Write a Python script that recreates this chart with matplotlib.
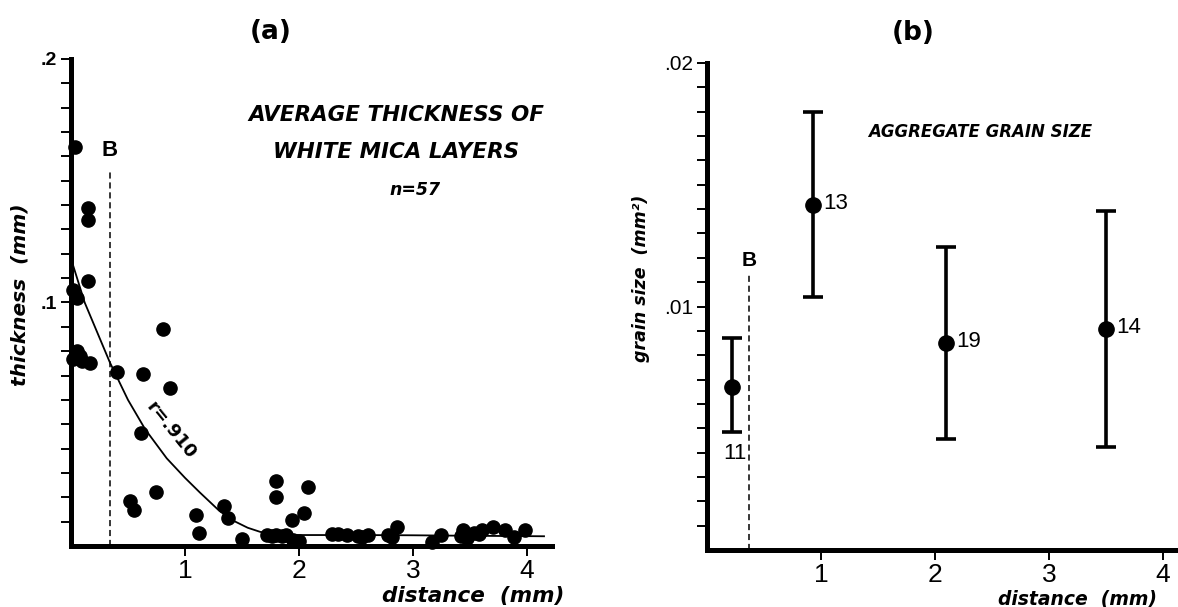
import matplotlib
matplotlib.use("Agg")
import matplotlib.pyplot as plt
from matplotlib.ticker import FixedLocator, FixedFormatter, NullFormatter

# ---------------- data: panel (a) ----------------
dist_a = [0.035, 0.15, 0.15, 0.15, 0.02, 0.05, 0.05, 0.02, 0.10, 0.17,
          0.81, 0.40, 0.63, 0.87, 0.61, 0.75, 0.52, 0.55, 1.10, 1.12,
          1.34, 1.38, 1.50, 1.80, 1.80, 2.08, 1.94, 2.04, 1.72, 1.80,
          1.89, 1.95, 2.29, 2.34, 2.42, 2.52, 2.61, 2.78, 2.86, 2.82,
          3.17, 3.25, 3.44, 3.47, 3.54, 3.61, 3.70, 3.81, 3.89, 3.98,
          0.08, 1.76, 1.85, 2.00, 3.42, 3.58, 2.55]
thick_a = [0.164, 0.139, 0.134, 0.109, 0.105, 0.102, 0.080, 0.077, 0.076, 0.075,
           0.089, 0.0716, 0.0708, 0.065, 0.0465, 0.022, 0.0185, 0.0148, 0.0128, 0.0053,
           0.0165, 0.0115, 0.003, 0.0267, 0.020, 0.0243, 0.0107, 0.0136, 0.0045, 0.0045,
           0.0045, 0.0025, 0.005, 0.005, 0.0045, 0.004, 0.0045, 0.0045, 0.008, 0.0037,
           0.0017, 0.0045, 0.0066, 0.0033, 0.0053, 0.0066, 0.0078, 0.0066, 0.0037, 0.0066,
           0.078, 0.004, 0.004, 0.002, 0.004, 0.005, 0.0035]
# regression curve
fit_x = [0.0, 0.12, 0.34, 0.5, 0.65, 0.84, 1.0, 1.13, 1.3, 1.42, 1.55, 1.66,
         1.8, 2.0, 2.5, 3.0, 3.5, 4.15]
fit_y = [0.118, 0.100, 0.0755, 0.060, 0.048, 0.036, 0.028, 0.022, 0.0145, 0.0105,
         0.0075, 0.0058, 0.0048, 0.0045, 0.0045, 0.0044, 0.0042, 0.004]
boundary_a = 0.34
boundary_a_top = 0.155
ytick_a = [0.1, 0.2]
ytick_a_labels = [".1", ".2"]
xtick_vals = [1, 2, 3, 4]
xtick_labels = ["1", "2", "3", "4"]

# ---------------- data: panel (b) ----------------
dist_b = [0.22, 0.93, 2.10, 3.50]
grain_b = [0.00669, 0.01417, 0.0085, 0.00908]
grain_lo = [0.00485, 0.01039, 0.00456, 0.00423]
grain_hi = [0.0087, 0.0180, 0.01244, 0.01392]
counts_b = ["11", "13", "19", "14"]
boundary_b = 0.37
boundary_b_top = 0.0114
ytick_b = [0.01, 0.02]
ytick_b_labels = [".01", ".02"]

W, H = 1178, 607
fig = plt.figure(figsize=(W / 100, H / 100), dpi=100)


def P(x, y):
    return x / W, 1 - y / H


BI = dict(family="DejaVu Sans", weight="bold", style="italic")
TICKF = "Liberation Sans"


def style_axes(ax, lw=3.6):
    for s in ("top", "right"):
        ax.spines[s].set_visible(False)
    for s in ("left", "bottom"):
        ax.spines[s].set_linewidth(lw)
        ax.spines[s].set_capstyle("projecting")
    ax.tick_params(axis="y", which="both", direction="out", length=7, width=1.4,
                   pad=3)
    ax.tick_params(axis="x", which="both", direction="out", length=7, width=1.4,
                   pad=2)


# ---------------- panel (a) ----------------
axa = fig.add_axes([71 / W, 1 - 546 / H, (552 - 71) / W, (546 - 59) / H])
style_axes(axa)
axa.set_xlim(0, 4.22)
axa.set_ylim(0, 0.2)
axa.yaxis.set_major_locator(FixedLocator(ytick_a))
axa.yaxis.set_major_formatter(FixedFormatter(ytick_a_labels))
axa.yaxis.set_minor_locator(FixedLocator([i / 100 for i in range(1, 20) if i % 10]))
axa.yaxis.set_minor_formatter(NullFormatter())
axa.xaxis.set_major_locator(FixedLocator(xtick_vals))
axa.xaxis.set_major_formatter(FixedFormatter(xtick_labels))
for t in axa.get_yticklabels():
    t.set_fontfamily(TICKF); t.set_fontsize(14); t.set_fontweight("bold")
for t in axa.get_xticklabels():
    t.set_fontfamily(TICKF); t.set_fontsize(19)

axa.plot(dist_a, thick_a, "o", color="black", markersize=9.5, clip_on=False, zorder=5)
axa.plot(fit_x, fit_y, "-", color="black", linewidth=1.3, zorder=4)
axa.plot([boundary_a, boundary_a], [0, boundary_a_top], color="black",
         linestyle=(0, (4, 2.5)), linewidth=1.1)
axa.text(boundary_a, boundary_a_top + 0.003, "B", ha="center", va="bottom",
         family=TICKF, weight="bold", fontsize=16)
axa.text(0.88, 0.0475, "r=.910", rotation=-51, rotation_mode="anchor",
         ha="center", va="center", family="DejaVu Sans", weight="bold", fontsize=13)

fig.text(*P(271, 32), "(a)", ha="center", va="center", family="DejaVu Sans",
         weight="bold", fontsize=19)
fig.text(*P(396, 115), "AVERAGE THICKNESS OF", ha="center", va="center",
         fontsize=15.5, **BI)
fig.text(*P(396, 152), "WHITE MICA LAYERS", ha="center", va="center",
         fontsize=15.5, **BI)
fig.text(*P(415, 190), "n=57", ha="center", va="center", fontsize=12.5, **BI)
fig.text(*P(20, 295), "thickness  (mm)", ha="center", va="center",
         rotation=90, fontsize=14.5, **BI)
fig.text(*P(473, 596), "distance  (mm)", ha="center", va="center",
         fontsize=15.5, **BI)

# ---------------- panel (b) ----------------
axb = fig.add_axes([707 / W, 1 - 550 / H, (1178 - 707) / W, (550 - 63) / H])
style_axes(axb)
axb.set_xlim(0, 4.13)
axb.set_ylim(0, 0.02)
axb.yaxis.set_major_locator(FixedLocator(ytick_b))
axb.yaxis.set_major_formatter(FixedFormatter(ytick_b_labels))
axb.yaxis.set_minor_locator(FixedLocator([i / 1000 for i in range(1, 20) if i % 10]))
axb.yaxis.set_minor_formatter(NullFormatter())
axb.xaxis.set_major_locator(FixedLocator(xtick_vals))
axb.xaxis.set_major_formatter(FixedFormatter(xtick_labels))
for t in axb.get_yticklabels():
    t.set_fontfamily(TICKF); t.set_fontsize(15)
for t in axb.get_xticklabels():
    t.set_fontfamily(TICKF); t.set_fontsize(19)

yerr = [[g - lo for g, lo in zip(grain_b, grain_lo)],
        [hi - g for g, hi in zip(grain_b, grain_hi)]]
axb.errorbar(dist_b, grain_b, yerr=yerr, fmt="o", color="black", markersize=11,
             elinewidth=2.6, capsize=7, capthick=2.6, clip_on=False, zorder=5)
for i, lab in enumerate(counts_b):
    if i == 0:
        axb.annotate(lab, (dist_b[i], grain_lo[i]), xytext=(2, -8),
                     textcoords="offset points", ha="center", va="top",
                     family=TICKF, fontsize=16)
    else:
        axb.annotate(lab, (dist_b[i], grain_b[i]), xytext=(7, 1),
                     textcoords="offset points", ha="left", va="center",
                     family=TICKF, fontsize=16)
axb.plot([boundary_b, boundary_b], [0, boundary_b_top], color="black",
         linestyle=(0, (4, 2.5)), linewidth=1.1)
axb.text(boundary_b, boundary_b_top + 0.0001, "B", ha="center", va="bottom",
         family=TICKF, weight="bold", fontsize=15)

fig.text(*P(913, 33), "(b)", ha="center", va="center", family="DejaVu Sans",
         weight="bold", fontsize=19)
fig.text(*P(980, 132), "AGGREGATE GRAIN SIZE", ha="center", va="center",
         fontsize=12, **BI)
fig.text(*P(641, 278), "grain size  (mm²)", ha="center", va="center",
         rotation=90, fontsize=12.5, **BI)
fig.text(*P(1077, 599), "distance  (mm)", ha="center", va="center",
         fontsize=13.5, **BI)

fig.savefig("out.png", dpi=100)
